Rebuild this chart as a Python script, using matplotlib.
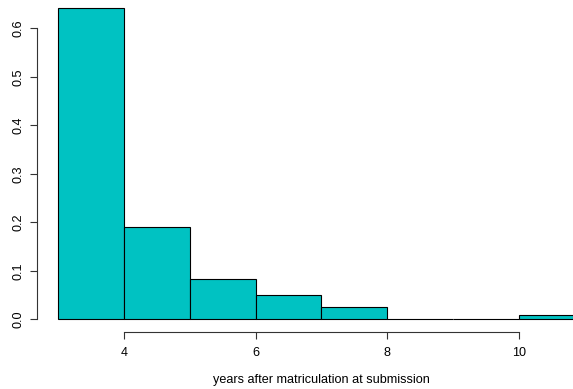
import matplotlib.pyplot as plt

# histogram bins (years) and densities
breaks = [3, 4, 5, 6, 7, 8, 9, 10, 11]
density = [0.642, 0.191, 0.083, 0.0495, 0.025, 0.0008, 0.0008, 0.0089]
xticks = [4, 6, 8, 10]
yticks = [0.0, 0.1, 0.2, 0.3, 0.4, 0.5, 0.6]

plt.rcParams['font.family'] = ['Liberation Sans', 'DejaVu Sans']

fig = plt.figure(figsize=(5.73, 3.89), dpi=100)
# R-style plot region, the right part is cut off by the image edge
ax = fig.add_axes([37.1 / 573, 1 - 331.7 / 389, 568.6 / 573, 336.0 / 389])

lefts = breaks[:-1]
widths = [b - a for a, b in zip(breaks[:-1], breaks[1:])]
ax.bar(lefts, density, width=widths, align='edge', color='#00C2C2',
       edgecolor='black', linewidth=0.8)

xpad = 0.04 * (breaks[-1] - breaks[0])
ypad = 0.04 * max(density)
ax.set_xlim(breaks[0] - xpad, breaks[-1] + xpad)
ax.set_ylim(-ypad, max(density) + ypad)

ax.set_xticks(xticks)
ax.set_xticklabels([str(t) for t in xticks])
ax.set_yticks(yticks)
ax.set_yticklabels([str(t) for t in yticks], rotation=90, va='center')

for s in ['top', 'right']:
    ax.spines[s].set_visible(False)
ax.spines['left'].set_bounds(yticks[0], yticks[-1])
ax.spines['bottom'].set_bounds(xticks[0], xticks[-1])
for s in ['left', 'bottom']:
    ax.spines[s].set_linewidth(0.8)
    ax.spines[s].set_color('#333333')

ax.tick_params(axis='both', direction='out', length=5, width=0.8,
               color='#333333', labelsize=9.1)
ax.tick_params(axis='x', pad=6.0)
ax.tick_params(axis='y', pad=4.0)

ax.set_xlabel('years after matriculation at submission', fontsize=9.1,
              labelpad=10.5)

fig.savefig('out.png', dpi=100)
